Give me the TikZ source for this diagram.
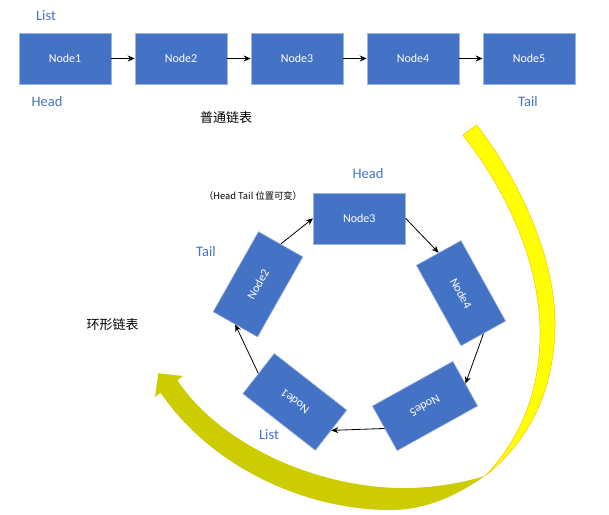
\documentclass[tikz,border=0pt]{standalone}
\usepackage{fontspec}
\setmainfont{Carlito}
\newfontfamily\cjk{Noto Sans CJK SC}
\usetikzlibrary{arrows.meta}
\definecolor{boxblue}{HTML}{4472C4}
\definecolor{boxline}{HTML}{9DB3E0}
\definecolor{bandyellow}{HTML}{FFFF00}
\definecolor{bandedge}{HTML}{FFC000}
\definecolor{bandolive}{HTML}{CCCC00}

\begin{document}
\begin{tikzpicture}[x=1pt,y=-1pt,
    box/.style={draw=boxline, line width=0.6pt, fill=boxblue, text=white, minimum width=92pt, minimum height=51pt, inner sep=0pt, font=\fontsize{12}{14}\selectfont},
    tag/.style={text=boxblue, font=\fontsize{14.5}{16}\selectfont},
    caption/.style={font=\cjk\fontsize{13}{15}\selectfont},
    link/.style={-{Stealth[length=7pt,width=6pt]}, line width=1.3pt},
    ringlink/.style={-{Stealth[length=7pt,width=6pt]}, line width=0.8pt}]
    \useasboundingbox (0,0) rectangle (609,514);
    % big curved arrows
    \fill[bandyellow, draw=bandedge, line width=0.5pt] (476.7,125) .. controls (530,195) and (556,270) .. (555,327)
        .. controls (554,390) and (530,440) .. (485,476)
        .. controls (520,440) and (541,390) .. (540,330)
        .. controls (539,265) and (510,195) .. (462.7,135) -- cycle;
    \fill[bandolive] (485,476) .. controls (450,500) and (420,511) .. (385,510)
        .. controls (300,508) and (210,465) .. (160.6,392.8)
        -- (155,397) -- (158.3,373.3) -- (183,376) -- (177.4,380.2)
        .. controls (220,445) and (320,490) .. (410,488)
        .. controls (440,487) and (465,482) .. (485,476) -- cycle;
    % plain list
    \node[box](n1) at (65,58.5){Node1};
    \node[box](n2) at (181,58.5){Node2};
    \node[box](n3) at (297,58.5){Node3};
    \node[box](n4) at (413,58.5){Node4};
    \node[box](n5) at (529,58.5){Node5};
    \foreach \i/\j in {1/2,2/3,3/4,4/5}
        \draw[link](n\i.east)--(n\j.west);
    \node[tag](l1) at (46,16){List};
    \node[tag](h1) at (47,102){Head};
    \node[tag](t1) at (528,102){Tail};
    \node[caption](cap1) at (226,118){普通链表};
    % ring list
    \node[box](c3) at (359.3,218.3){Node3};
    \node[box,rotate=-61](c4) at (461,293.2){Node4};
    \node[box,rotate=209](c5) at (425,406){Node5};
    \node[box,rotate=142](c1) at (294.8,401.9){Node1};
    \node[box,rotate=60.5](c2) at (258,284.3){Node2};
    \draw[ringlink](c2.east)--(c3.west);
    \draw[ringlink](c3.east)--(c4.west);
    \draw[ringlink](c4.east)--(c5.west);
    \draw[ringlink](c5.east)--(c1.west);
    \draw[ringlink](c1.east)--(c2.west);
    \node[tag](h2) at (368,174){Head};
    \node[font=\cjk\fontsize{9.3}{11}\selectfont](note) at (253,196){（Head Tail 位置可变）};
    \node[tag](t2) at (206,252){Tail};
    \node[tag](l2) at (269,435){List};
    \node[caption](cap2) at (112.5,325){环形链表};
\end{tikzpicture}
\end{document}
